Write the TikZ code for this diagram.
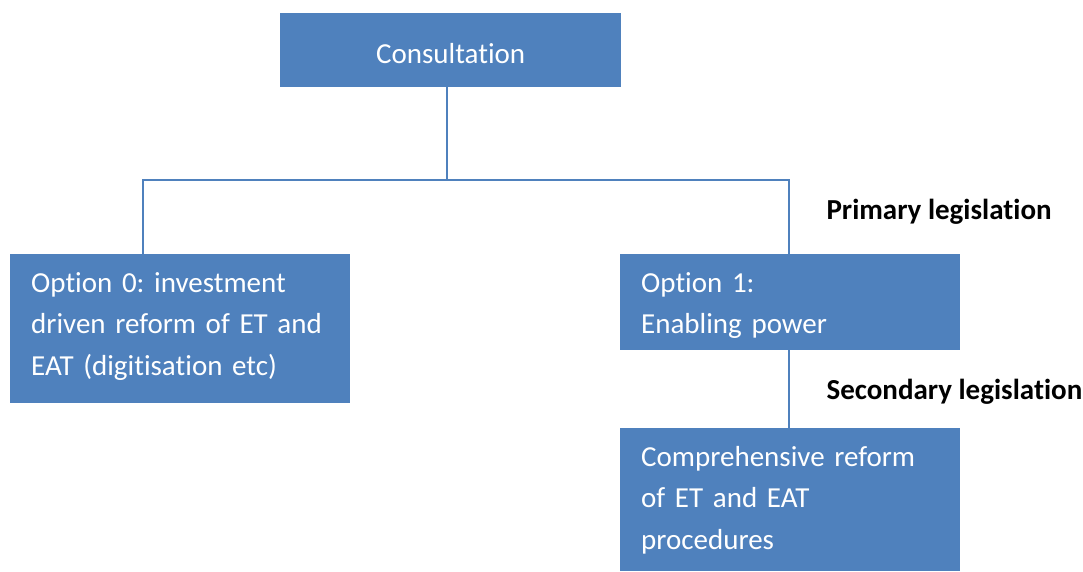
\documentclass[tikz,border=0pt]{standalone}
\usepackage{fontspec}
\setmainfont{Carlito}[Ligatures=NoCommon]
\usepackage{tikz}
\usetikzlibrary{positioning, calc}
\definecolor{boxblue}{RGB}{79,129,189}
\frenchspacing

\begin{document}
\begin{tikzpicture}[x=1pt,y=-1pt,
    box/.style={fill=boxblue, text=white, anchor=north west, inner sep=0pt, font=\fontsize{29}{41.7}\selectfont},
    optbox/.style={box, text width=298pt, inner xsep=21pt, align=left, text height=38pt},
    link/.style={draw=boxblue, line width=1.3pt},
    leg/.style={anchor=base west, font=\fontsize{29}{35}\selectfont\bfseries}]
    \useasboundingbox (0,0) rectangle (1083,571);

    % Consultazione
    \node[box, minimum width=341pt, text height=50.3pt, text depth=23.7pt] (cons) at (280,13) {Consultation};

    % Opzioni
    \node[optbox, text depth=111pt] (opt0) at (10,254) {Option 0: investment\\driven reform of ET and\\EAT (digitisation etc)};
    \node[optbox, text depth=58pt] (opt1) at (620,254) {Option 1:\\Enabling power};
    \node[optbox, text depth=105pt] (reform) at (620,428) {Comprehensive reform\\of ET and EAT\\procedures};

    % Collegamenti
    \coordinate (lj) at (143,180);
    \coordinate (cj) at (447,180);
    \coordinate (rj) at (789,180);
    \draw[link] (cons.south -| cj) -- (cj);
    \draw[link] (opt0.north -| lj) -- (lj) -- (rj) -- (opt1.north -| rj);
    \draw[link] (opt1.south -| rj) -- (reform.north -| rj);

    % Legislazione
    \node[leg] (prim) at (823,219) {Primary legislation};
    \node[leg] (sec) at (823,399) {Secondary legislation};
\end{tikzpicture}
\end{document}
